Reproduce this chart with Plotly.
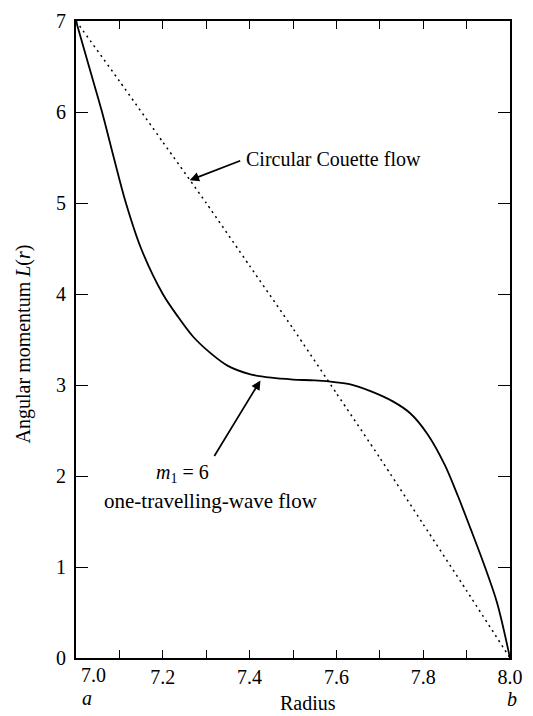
import plotly.graph_objects as go

# Radial profile of angular momentum between the cylinders (a = 7.0, b = 8.0)
radius_wave = [7.00, 7.03, 7.06, 7.087, 7.115, 7.15, 7.20, 7.235, 7.27, 7.31, 7.35,
               7.40, 7.45, 7.50, 7.55, 7.60, 7.63, 7.68, 7.73, 7.77, 7.81,
               7.85, 7.88, 7.91, 7.94, 7.97, 8.00]
L_wave = [7.00, 6.50, 6.00, 5.50, 5.00, 4.50, 4.00, 3.75, 3.53, 3.35, 3.21,
          3.12, 3.08, 3.06, 3.05, 3.03, 3.01, 2.93, 2.82, 2.69, 2.46,
          2.12, 1.78, 1.41, 1.03, 0.61, 0.00]

# Circular Couette flow
radius_couette = [7.0, 7.1, 7.2, 7.3, 7.4, 7.5, 7.6, 7.7, 7.8, 7.9, 8.0]
L_couette = [7.00, 6.34, 5.67, 5.00, 4.31, 3.62, 2.91, 2.20, 1.47, 0.74, 0.00]

x_ticks = [7.0, 7.1, 7.2, 7.3, 7.4, 7.5, 7.6, 7.7, 7.8, 7.9, 8.0]
x_ticktext = ["", "", "7.2", "", "7.4", "", "7.6", "", "7.8", "", "8.0"]
y_ticks = [0, 1, 2, 3, 4, 5, 6, 7]

FONT = "Liberation Serif"
FS = 20

fig = go.Figure()
fig.add_trace(go.Scatter(x=radius_couette, y=L_couette, mode="lines",
                         line=dict(color="black", width=1.5, dash="2px,4px",
                                   shape="spline", smoothing=0.5),
                         showlegend=False))
fig.add_trace(go.Scatter(x=radius_wave, y=L_wave, mode="lines",
                         line=dict(color="black", width=1.8, shape="spline", smoothing=0.9),
                         showlegend=False))

fig.update_xaxes(range=[7.0, 8.0], tickvals=x_ticks, ticktext=x_ticktext,
                 ticks="inside", ticklen=8, tickwidth=1.3, tickcolor="black",
                 showline=True, linecolor="black", linewidth=2.2, mirror="ticks",
                 showgrid=False, zeroline=False,
                 tickfont=dict(family=FONT, size=FS, color="black"))
fig.update_yaxes(range=[0, 7], tickvals=y_ticks,
                 ticks="inside", ticklen=12, tickwidth=1.3, tickcolor="black",
                 showline=True, linecolor="black", linewidth=2.2, mirror="ticks",
                 showgrid=False, zeroline=False, ticklabelstandoff=4,
                 tickfont=dict(family=FONT, size=FS, color="black"))

# (text, centre x px, centre y px, size, angle)
labels = [
    ("7.0", 94, 675, FS, 0),
    ("<i>a</i>", 87, 699, FS, 0),
    ("<i>b</i>", 520, 700, FS, 0),
    ("Radius", 312, 704, FS, 0),
    ("Angular momentum <i>L</i>(<i>r</i>)", 22, 338, FS, -90),
    ("Circular Couette flow", 338, 150, FS, 0),
    ("<i>m</i><sub>1</sub> = 6", 184, 470, FS, 0),
    ("one-travelling-wave flow", 213, 498, 21, 0),
]

W, H = 533, 716
L_M, R_M, T_M, B_M = 76, 15, 10, 58
pw, ph = W - L_M - R_M, H - T_M - B_M


def to_paper(px, py):
    return (px - L_M) / pw, (H - B_M - py) / ph


ann_out = []
for text, px, py, size, ang in labels:
    x, y = to_paper(px, py)
    ann_out.append(dict(x=x, y=y, xref="paper", yref="paper", text=text,
                        showarrow=False, xanchor="center", yanchor="middle",
                        textangle=ang, font=dict(family=FONT, size=size, color="black")))

# Arrows pointing at the two curves
ann_out.append(dict(x=7.262, y=5.25, xref="x", yref="y", ax=52, ay=-20,
                    showarrow=True, arrowhead=2, arrowsize=1.1, arrowwidth=1.7,
                    arrowcolor="black", text=""))
ann_out.append(dict(x=7.425, y=3.05, xref="x", yref="y", ax=-47, ay=77,
                    showarrow=True, arrowhead=2, arrowsize=1.1, arrowwidth=1.7,
                    arrowcolor="black", text=""))

fig.update_layout(width=W, height=H, margin=dict(l=L_M, r=R_M, t=T_M, b=B_M),
                  plot_bgcolor="white", paper_bgcolor="white",
                  annotations=ann_out, font=dict(family=FONT, size=FS, color="black"))

fig.write_html("out.html")
